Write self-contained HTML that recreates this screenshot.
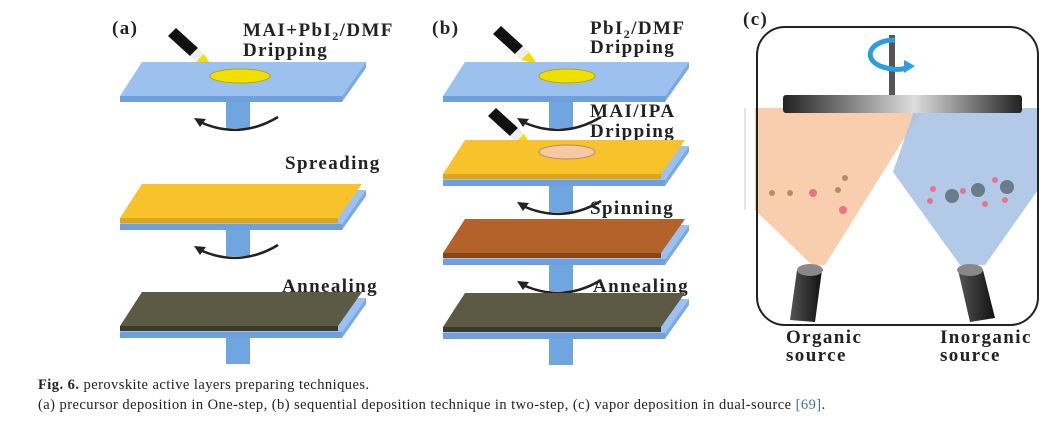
<!DOCTYPE html>
<html><head><meta charset="utf-8"><style>
body{margin:0;background:#fff;width:1056px;height:421px;overflow:hidden}
svg{display:block}
.l{font-family:"Liberation Serif",serif;font-weight:bold;font-size:19px;letter-spacing:1.4px;fill:#222}
.c{font-family:"Liberation Serif",serif;font-size:14.5px;letter-spacing:0.45px;fill:#222}
</style></head><body>
<svg width="1056" height="421" viewBox="0 0 1056 421">
<defs>
<g id="sub">
<rect x="106" y="38" width="24" height="28" fill="#6fa6e0"/>
<polygon points="22,0 246,0 222,34 0,34" fill="#9dc1ef"/>
<polygon points="0,34 222,34 222,40 0,40" fill="#6f9fdc"/>
<polygon points="222,34 246,0 246,6 222,40" fill="#7aaae6"/>
</g>
<g id="arr">
<path d="M80,60 Q120,78 158,55" fill="none" stroke="#222" stroke-width="2.5"/>
<polygon points="74,56 86,57 80,65" fill="#222"/>
</g>
<g id="pen">
<polygon points="0,8 8,0 30,20 22,28" fill="#111"/>
<polygon points="22,28 30,20 36,26 28,34" fill="#eee"/>
<polygon points="28,34 36,26 44,38" fill="#f0e000"/>
</g>
<linearGradient id="disk" x1="0" x2="1"><stop offset="0" stop-color="#222"/><stop offset=".55" stop-color="#ddd"/><stop offset="1" stop-color="#222"/></linearGradient>
<linearGradient id="cyl" x1="0" x2="1"><stop offset="0" stop-color="#555"/><stop offset=".5" stop-color="#333"/><stop offset="1" stop-color="#111"/></linearGradient>
</defs>

<!-- (a) -->
<text class="l" x="112" y="34" font-size="20">(a)</text>
<text class="l" x="243" y="36">MAI+PbI<tspan font-size="12" dy="4">2</tspan><tspan dy="-4">/DMF</tspan></text>
<text class="l" x="243" y="56">Dripping</text>
<use href="#pen" x="168" y="28"/>
<g transform="translate(120,62)"><use href="#sub"/><use href="#arr"/>
<ellipse cx="120" cy="14" rx="30" ry="7" fill="#f0e000" stroke="#b8a800"/></g>
<text class="l" x="285" y="169">Spreading</text>
<g transform="translate(120,190)"><use href="#sub"/><use href="#arr"/>
<polygon points="22,-6 242,-6 218,28 0,28" fill="#f7c22a"/>
<polygon points="0,28 218,28 218,33 0,33" fill="#e0a515"/></g>
<text class="l" x="282" y="292">Annealing</text>
<g transform="translate(120,298)"><use href="#sub"/>
<polygon points="22,-6 242,-6 218,28 0,28" fill="#5c5a44"/>
<polygon points="0,28 218,28 218,33 0,33" fill="#3c3a2c"/></g>

<!-- (b) -->
<text class="l" x="432" y="34" font-size="20">(b)</text>
<text class="l" x="590" y="34">PbI<tspan font-size="12" dy="4">2</tspan><tspan dy="-4">/DMF</tspan></text>
<text class="l" x="590" y="53">Dripping</text>
<use href="#pen" x="493" y="26"/>
<g transform="translate(443,62)"><use href="#sub"/><use href="#arr"/>
<ellipse cx="124" cy="14" rx="28" ry="7" fill="#f0e000" stroke="#b8a800"/></g>
<text class="l" x="590" y="117">MAI/IPA</text>
<text class="l" x="590" y="137">Dripping</text>
<use href="#pen" x="488" y="108"/>
<g transform="translate(443,146)"><use href="#sub"/><use href="#arr"/>
<polygon points="22,-6 242,-6 218,28 0,28" fill="#f7c22a"/>
<polygon points="0,28 218,28 218,33 0,33" fill="#e0a515"/>
<ellipse cx="124" cy="6" rx="28" ry="7" fill="#f4c9a4" stroke="#b08a6a"/></g>
<text class="l" x="590" y="214">Spinning</text>
<g transform="translate(443,225)"><use href="#sub"/><use href="#arr"/>
<polygon points="22,-6 242,-6 218,28 0,28" fill="#b3622a"/>
<polygon points="0,28 218,28 218,33 0,33" fill="#8a4515"/></g>
<text class="l" x="593" y="292">Annealing</text>
<g transform="translate(443,299)"><use href="#sub"/>
<polygon points="22,-6 242,-6 218,28 0,28" fill="#5c5a44"/>
<polygon points="0,28 218,28 218,33 0,33" fill="#3c3a2c"/></g>

<!-- (c) -->
<text class="l" x="743" y="25" font-size="20">(c)</text>
<polygon points="755,108 925,108 900,145 825,265 812,265 755,210" fill="#f8c9a6" opacity=".9"/>
<polygon points="893,172 915,108 1038,108 1038,190 985,265 960,265" fill="#aac4e6" opacity=".9"/>
<line x1="745" y1="108" x2="745" y2="210" stroke="#ccc"/>
<rect x="757" y="27" width="281" height="298" rx="28" fill="none" stroke="#222" stroke-width="2"/>
<g fill="#e8748a"><circle cx="813" cy="193" r="4"/><circle cx="843" cy="210" r="4"/><circle cx="933" cy="189" r="3"/><circle cx="963" cy="191" r="3"/><circle cx="930" cy="201" r="3"/><circle cx="985" cy="204" r="3"/><circle cx="1005" cy="200" r="3"/><circle cx="995" cy="180" r="3"/></g>
<g fill="#6a7c88"><circle cx="952" cy="196" r="7"/><circle cx="978" cy="190" r="7"/><circle cx="1007" cy="187" r="7"/></g>
<g fill="#b09060"><circle cx="772" cy="193" r="3"/><circle cx="790" cy="193" r="3"/><circle cx="845" cy="178" r="3"/><circle cx="838" cy="190" r="3"/></g>
<rect x="889" y="35" width="6" height="60" fill="#555"/>
<path d="M895,40 C870,40 862,58 880,66 C893,71 905,70 910,66" fill="none" stroke="#2a9ee0" stroke-width="5"/>
<polygon points="904,60 915,66 904,73" fill="#2a9ee0"/>
<rect x="783" y="95" width="239" height="18" rx="3" fill="url(#disk)"/>
<polygon points="797,270 822,270 815,322 790,320" fill="url(#cyl)"/>
<ellipse cx="810" cy="270" rx="13" ry="6" fill="#888"/>
<polygon points="958,270 983,270 995,318 970,322" fill="url(#cyl)"/>
<ellipse cx="970" cy="270" rx="13" ry="6" fill="#888"/>
<text class="l" x="786" y="343">Organic</text>
<text class="l" x="786" y="361">source</text>
<text class="l" x="940" y="343">Inorganic</text>
<text class="l" x="940" y="361">source</text>

<text class="c" x="38" y="389"><tspan font-weight="bold">Fig. 6.</tspan> perovskite active layers preparing techniques.</text>
<text class="c" x="38" y="409">(a) precursor deposition in One-step, (b) sequential deposition technique in two-step, (c) vapor deposition in dual-source <tspan fill="#3b6fb0">[69]</tspan>.</text>
</svg>
</body></html>
